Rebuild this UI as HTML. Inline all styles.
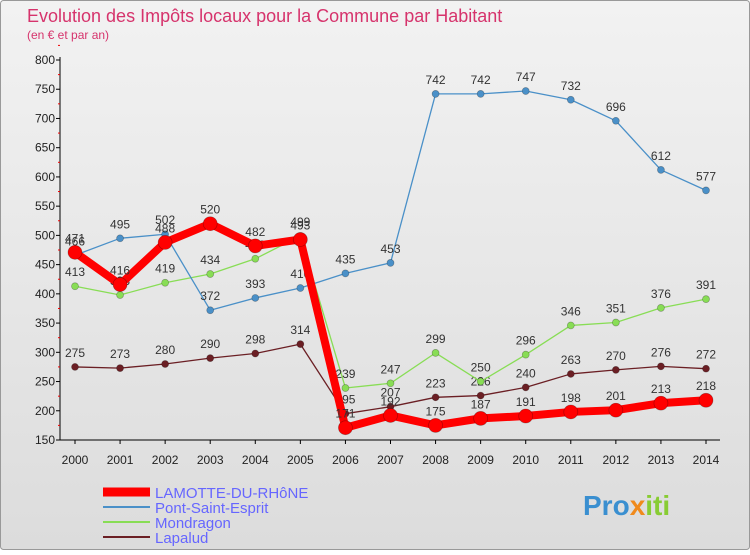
<!DOCTYPE html>
<html><head><meta charset="utf-8"><style>
body{margin:0;width:750px;height:550px;overflow:hidden;font-family:"Liberation Sans","DejaVu Sans",sans-serif}
</style></head><body>
<svg id="chart" width="750" height="550" xmlns="http://www.w3.org/2000/svg">
<defs><linearGradient id="bg" x1="0" y1="0" x2="0" y2="1"><stop offset="0" stop-color="#f2f2f2"/><stop offset="1" stop-color="#dcdcdc"/></linearGradient></defs>
<rect x="0.5" y="0.5" width="749" height="549" fill="url(#bg)" stroke="#999" rx="3"/>
<text x="27" y="22" font-size="18" fill="#d6336c">Evolution des Impôts locaux pour la Commune par Habitant</text>
<text x="27" y="39" font-size="12" fill="#d6336c">(en € et par an)</text>
<g id="axes"></g><g id="series"></g>
<g font-size="15">
<line x1="103" y1="492" x2="150" y2="492" stroke="#ff0000" stroke-width="9"/>
<text x="155" y="498" fill="#6666ff">LAMOTTE-DU-RHôNE</text>
<line x1="103" y1="507" x2="150" y2="507" stroke="#4a90c8" stroke-width="2"/>
<text x="155" y="513" fill="#6666ff">Pont-Saint-Esprit</text>
<line x1="103" y1="522" x2="150" y2="522" stroke="#88dd55" stroke-width="2"/>
<text x="155" y="528" fill="#6666ff">Mondragon</text>
<line x1="103" y1="537" x2="150" y2="537" stroke="#6b1f24" stroke-width="2"/>
<text x="155" y="543" fill="#6666ff">Lapalud</text>
</g>
<text x="583" y="515" font-size="28" font-weight="bold" fill="#3a8fd0">Pro<tspan fill="#f08a1c">x</tspan><tspan fill="#88cc33">iti</tspan></text>
</svg>
<script>
const years=[2000,2001,2002,2003,2004,2005,2006,2007,2008,2009,2010,2011,2012,2013,2014];
const yTicks=[150,200,250,300,350,400,450,500,550,600,650,700,750,800];
const lamotte=[471,416,488,520,482,493,171,192,175,187,191,198,201,213,218];
const pont=[466,495,502,372,393,410,435,453,742,742,747,732,696,612,577];
const mondragon=[413,398,419,434,460,499,239,247,299,250,296,346,351,376,391];
const lapalud=[275,273,280,290,298,314,195,207,223,226,240,263,270,276,272];
const NS="http://www.w3.org/2000/svg";
const X=i=>75+i*(706-75)/(years.length-1);
const Y=v=>440-(v-150)*(380/650);
function mk(t,a,p){const e=document.createElementNS(NS,t);for(const k in a)e.setAttribute(k,a[k]);p.appendChild(e);return e;}
const ax=document.getElementById('axes');
const yl=mk('line',{x1:60,y1:Y(800)-3,x2:60,y2:440,stroke:'#000'},ax);


const xl=mk('line',{x1:60,y1:440,x2:720,y2:440,stroke:'#000'},ax);


yTicks.forEach(v=>{
 mk('line',{x1:56,y1:Y(v),x2:60,y2:Y(v),stroke:'#000'},ax);
 mk('line',{x1:58,y1:Y(v+25),x2:60,y2:Y(v+25),stroke:'#e00'},ax);
 const t=mk('text',{x:55,y:Y(v)+4,'text-anchor':'end','font-size':12,fill:'#222'},ax);t.textContent=v;
 
 
});
years.forEach((y,i)=>{
 mk('line',{x1:X(i),y1:440,x2:X(i),y2:444,stroke:'#000'},ax);
 const t=mk('text',{x:X(i),y:464,'text-anchor':'middle','font-size':12,fill:'#222'},ax);t.textContent=y;
 
 
});
const sg=document.getElementById('series');
function draw(data,color,w,r,name){
 const g=mk('g',{},sg);
 
 
 mk('polyline',{points:data.map((v,i)=>X(i)+','+Y(v)).join(' '),fill:'none',stroke:color,'stroke-width':w,'stroke-linejoin':'round'},g);
 data.forEach((v,i)=>{
  const c=mk('circle',{cx:X(i),cy:Y(v),r:r,fill:color,stroke:'rgba(0,0,0,0.3)','stroke-width':0.7},g);
  
  
  const t=mk('text',{x:X(i),y:Y(v)-10,'text-anchor':'middle','font-size':12,fill:'#333'},g);t.textContent=v;
  
  
 });
}
draw(lapalud,'#6b1f24',1.3,3.5,'series-lapalud');
draw(mondragon,'#88dd55',1.3,3.5,'series-mondragon');
draw(pont,'#4a90c8',1.3,3.5,'series-pont-saint-esprit');
draw(lamotte,'#ff0000',8,7,'series-lamotte');
</script>
</body></html>
